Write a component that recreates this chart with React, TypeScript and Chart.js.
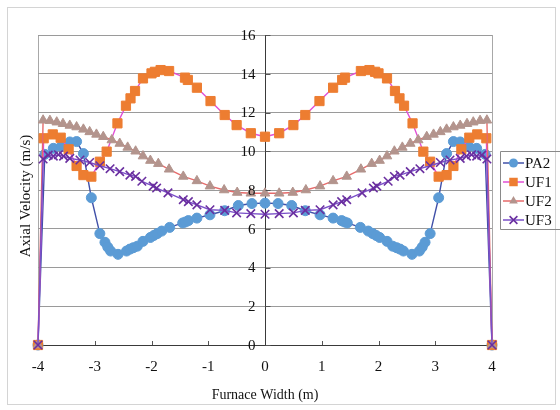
import React, { useEffect, useRef } from 'react';
import { Chart, registerables } from 'chart.js';

Chart.register(...registerables);

// ---------- data ----------
const seriesNames = ['PA2', 'UF1', 'UF2', 'UF3'];

const pa2X = [-4, -3.88, -3.73, -3.59, -3.44, -3.32, -3.2, -3.06, -2.91, -2.82, -2.77, -2.72, -2.59, -2.44, -2.38, -2.32, -2.25, -2.15, -2.02, -1.96, -1.9, -1.82, -1.68, -1.45, -1.4, -1.35, -1.2, -0.97, -0.71, -0.47, -0.23, 0,
  0.23, 0.47, 0.71, 0.97, 1.2, 1.35, 1.4, 1.45, 1.68, 1.82, 1.9, 1.96, 2.02, 2.15, 2.25, 2.32, 2.38, 2.44, 2.59, 2.72, 2.77, 2.82, 2.91, 3.06, 3.2, 3.32, 3.44, 3.59, 3.73, 3.88, 4];
const pa2Y = [0, 9.84, 10.15, 10.25, 10.48, 10.5, 9.88, 7.6, 5.75, 5.3, 5.05, 4.85, 4.68, 4.85, 4.95, 5.02, 5.1, 5.35, 5.55, 5.65, 5.75, 5.88, 6.07, 6.3, 6.35, 6.42, 6.55, 6.72, 6.93, 7.2, 7.3, 7.32,
  7.3, 7.2, 6.93, 6.72, 6.55, 6.42, 6.35, 6.3, 6.07, 5.88, 5.75, 5.65, 5.55, 5.35, 5.1, 5.02, 4.95, 4.85, 4.68, 4.85, 5.05, 5.3, 5.75, 7.6, 9.88, 10.5, 10.48, 10.25, 10.15, 9.84, 0];

const uf1X = [-4, -3.9, -3.74, -3.6, -3.46, -3.32, -3.2, -3.06, -2.91, -2.79, -2.6, -2.45, -2.37, -2.29, -2.15, -2.0, -1.94, -1.84, -1.69, -1.41, -1.36, -1.2, -0.96, -0.71, -0.5, -0.25, 0,
  0.25, 0.5, 0.71, 0.96, 1.2, 1.36, 1.41, 1.69, 1.84, 1.94, 2.0, 2.15, 2.29, 2.37, 2.45, 2.6, 2.79, 2.91, 3.06, 3.2, 3.32, 3.46, 3.6, 3.74, 3.9, 4];
const uf1Y = [0, 10.67, 10.87, 10.7, 10.1, 9.24, 8.77, 8.69, 9.46, 9.98, 11.44, 12.35, 12.73, 13.11, 13.76, 14.02, 14.1, 14.19, 14.14, 13.8, 13.68, 13.28, 12.59, 11.87, 11.35, 10.93, 10.75,
  10.93, 11.35, 11.87, 12.59, 13.28, 13.68, 13.8, 14.14, 14.19, 14.1, 14.02, 13.76, 13.11, 12.73, 12.35, 11.44, 9.98, 9.46, 8.69, 8.77, 9.24, 10.1, 10.7, 10.87, 10.67, 0];

const uf2X = [-4, -3.91, -3.79, -3.67, -3.56, -3.44, -3.32, -3.2, -3.09, -2.97, -2.85, -2.7, -2.56, -2.42, -2.28, -2.15, -2.02, -1.88, -1.69, -1.44, -1.2, -0.97, -0.72, -0.49, -0.25, 0,
  0.25, 0.49, 0.72, 0.97, 1.2, 1.44, 1.69, 1.88, 2.02, 2.15, 2.28, 2.42, 2.56, 2.7, 2.85, 2.97, 3.09, 3.2, 3.32, 3.44, 3.56, 3.67, 3.79, 3.91, 4];
const uf2Y = [0, 11.6, 11.58, 11.5, 11.42, 11.33, 11.25, 11.13, 11.0, 10.87, 10.75, 10.58, 10.4, 10.2, 10.0, 9.75, 9.52, 9.36, 9.07, 8.7, 8.47, 8.2, 8.0, 7.87, 7.83, 7.83,
  7.83, 7.87, 8.0, 8.2, 8.47, 8.7, 9.07, 9.36, 9.52, 9.75, 10.0, 10.2, 10.4, 10.58, 10.75, 10.87, 11.0, 11.13, 11.25, 11.33, 11.42, 11.5, 11.58, 11.6, 0];

const uf3X = [-4, -3.91, -3.82, -3.73, -3.64, -3.55, -3.44, -3.26, -3.09, -2.91, -2.73, -2.56, -2.38, -2.28, -2.17, -1.97, -1.91, -1.71, -1.44, -1.35, -1.2, -0.97, -0.71, -0.5, -0.25, 0,
  0.25, 0.5, 0.71, 0.97, 1.2, 1.35, 1.44, 1.71, 1.91, 1.97, 2.17, 2.28, 2.38, 2.56, 2.73, 2.91, 3.09, 3.26, 3.44, 3.55, 3.64, 3.73, 3.82, 3.91, 4];
const uf3Y = [0, 9.6, 9.8, 9.75, 9.82, 9.75, 9.63, 9.55, 9.42, 9.25, 9.1, 8.95, 8.77, 8.7, 8.45, 8.2, 8.1, 7.85, 7.5, 7.4, 7.23, 6.98, 6.95, 6.82, 6.78, 6.75,
  6.78, 6.82, 6.95, 6.98, 7.23, 7.4, 7.5, 7.85, 8.1, 8.2, 8.45, 8.7, 8.77, 8.95, 9.1, 9.25, 9.42, 9.55, 9.63, 9.75, 9.82, 9.75, 9.8, 9.6, 0];

const xTickValues = [-4, -3, -2, -1, 0, 1, 2, 3, 4];
const yTickValues = [0, 2, 4, 6, 8, 10, 12, 14, 16];

const xTitle = 'Furnace Width (m)';
const yTitle = 'Axial Velocity (m/s)';

// ---------- styles ----------
const SERIF = '"Liberation Serif", "Times New Roman", serif';
const styles = [
  { line: '#4050A8', fill: '#5B9BD5', stroke: '#5B9BD5', shape: 'circle', r: 5, bw: 1 },
  { line: '#E24FD6', fill: '#ED7D31', stroke: '#ED7D31', shape: 'rect', r: 6.5, bw: 1 },
  { line: '#E66A6A', fill: '#B3948D', stroke: '#B3948D', shape: 'triangle', r: 5.5, bw: 1 },
  { line: '#7A4FC9', fill: '#6A2FA0', stroke: '#6A2FA0', shape: 'crossRot', r: 6, bw: 1.6 },
];

function pts(xs: number[], ys: number[]) {
  return xs.map((x, i) => ({ x, y: ys[i] }));
}

function drawMarker(ctx: CanvasRenderingContext2D, shape: string, x: number, y: number, r: number, fill: string, stroke: string, bw: number) {
  ctx.save();
  ctx.fillStyle = fill;
  ctx.strokeStyle = stroke;
  ctx.lineWidth = bw;
  ctx.beginPath();
  if (shape === 'circle') {
    ctx.arc(x, y, r, 0, Math.PI * 2);
    ctx.fill();
  } else if (shape === 'rect') {
    const s = r * Math.SQRT1_2;
    ctx.rect(x - s, y - s, 2 * s, 2 * s);
    ctx.fill();
  } else if (shape === 'triangle') {
    ctx.moveTo(x, y - r);
    ctx.lineTo(x + r * 0.866, y + r * 0.5);
    ctx.lineTo(x - r * 0.866, y + r * 0.5);
    ctx.closePath();
    ctx.fill();
  } else {
    const d = r * Math.SQRT1_2;
    ctx.moveTo(x - d, y - d);
    ctx.lineTo(x + d, y + d);
    ctx.moveTo(x + d, y - d);
    ctx.lineTo(x - d, y + d);
    ctx.stroke();
  }
  ctx.restore();
}

const decorPlugin = {
  id: 'decor',
  beforeDraw(chart: any) {
    const ctx = chart.ctx as CanvasRenderingContext2D;
    ctx.save();
    ctx.fillStyle = '#ffffff';
    ctx.fillRect(0, 0, chart.width, chart.height);
    ctx.strokeStyle = '#d4d4d4';
    ctx.lineWidth = 1;
    ctx.strokeRect(7.5, 7.5, 548, 397);
    ctx.restore();
  },
  afterDraw(chart: any) {
    const ctx = chart.ctx as CanvasRenderingContext2D;
    const xs = chart.scales.x;
    const ys = chart.scales.y;
    const area = chart.chartArea;
    ctx.save();
    // small tick marks
    ctx.strokeStyle = '#555';
    ctx.lineWidth = 1;
    for (const v of xTickValues) {
      if (v === 0 || v === -4 || v === 4) continue;
      const px = Math.round(xs.getPixelForValue(v)) + 0.5;
      ctx.beginPath();
      ctx.moveTo(px, area.bottom);
      ctx.lineTo(px, area.bottom - 4);
      ctx.stroke();
    }
    const x0 = Math.round(xs.getPixelForValue(0)) + 0.5;
    for (const v of yTickValues) {
      const py = Math.round(ys.getPixelForValue(v)) + 0.5;
      ctx.beginPath();
      ctx.moveTo(x0, py);
      ctx.lineTo(x0 + 5, py);
      ctx.stroke();
    }
    // y tick labels (left of the centred axis)
    ctx.fillStyle = '#111';
    ctx.font = `15px ${SERIF}`;
    ctx.textAlign = 'right';
    ctx.textBaseline = 'middle';
    for (const v of yTickValues) {
      ctx.fillText(String(v), x0 - 10, ys.getPixelForValue(v) + 1);
    }
    // axis titles
    ctx.font = `14px ${SERIF}`;
    ctx.textAlign = 'center';
    ctx.textBaseline = 'middle';
    ctx.fillText(xTitle, xs.getPixelForValue(0), 395);
    ctx.save();
    ctx.translate(26, 196);
    ctx.rotate(-Math.PI / 2);
    ctx.font = `15px ${SERIF}`;
    ctx.fillText(yTitle, 0, 0);
    ctx.restore();
    // legend
    ctx.strokeStyle = '#8a8a8a';
    ctx.lineWidth = 1;
    ctx.beginPath();
    ctx.moveTo(562, 151.5);
    ctx.lineTo(500.5, 151.5);
    ctx.lineTo(500.5, 229.5);
    ctx.lineTo(562, 229.5);
    ctx.stroke();
    ctx.font = `15px ${SERIF}`;
    ctx.textAlign = 'left';
    ctx.textBaseline = 'middle';
    seriesNames.forEach((name, i) => {
      const st = styles[i];
      const y = 163 + i * 19;
      ctx.strokeStyle = st.line;
      ctx.lineWidth = 1.5;
      ctx.beginPath();
      ctx.moveTo(503, y);
      ctx.lineTo(524, y);
      ctx.stroke();
      drawMarker(ctx, st.shape, 513.5, y, st.r - 0.5, st.fill, st.stroke, st.bw);
      ctx.fillStyle = '#111';
      ctx.fillText(name, 525, y + 1);
    });
    ctx.restore();
  },
};

export default function App() {
  const canvasRef = useRef<HTMLCanvasElement | null>(null);

  useEffect(() => {
    const canvas = canvasRef.current;
    if (!canvas) return;
    const seriesData = [
      pts(pa2X, pa2Y),
      pts(uf1X, uf1Y),
      pts(uf2X, uf2Y),
      pts(uf3X, uf3Y),
    ];
    const datasets = seriesNames.map((name, i) => ({
      label: name,
      data: seriesData[i],
      showLine: true,
      borderColor: styles[i].line,
      borderWidth: 1.4,
      pointStyle: styles[i].shape as any,
      pointRadius: styles[i].r,
      pointBackgroundColor: styles[i].fill,
      pointBorderColor: styles[i].stroke,
      pointBorderWidth: styles[i].bw,
      tension: 0,
      clip: false as any,
      order: 3 - i,
    }));

    const chart = new Chart(canvas, {
      type: 'scatter',
      data: { datasets },
      plugins: [decorPlugin],
      options: {
        responsive: false,
        animation: false,
        devicePixelRatio: 1,
        layout: { padding: { left: 38, right: 68, top: 35, bottom: 0 } },
        plugins: {
          legend: { display: false },
          tooltip: { enabled: false },
          title: { display: false },
        },
        scales: {
          x: {
            type: 'linear',
            position: 'bottom',
            min: -4,
            max: 4,
            afterFit: (scale: any) => { scale.height = 65; },
            afterBuildTicks: (scale: any) => { scale.ticks = xTickValues.map((v) => ({ value: v })); },
            ticks: {
              stepSize: 1,
              padding: 13,
              color: '#111',
              font: { family: SERIF, size: 15 },
              callback: (v: any) => String(v),
            },
            grid: {
              drawTicks: false,
              color: (c: any) => (c.tick && (c.tick.value === -4 || c.tick.value === 4) ? '#a8a8a8' : 'rgba(0,0,0,0)'),
              lineWidth: 1,
            },
            border: { color: '#3a3a3a', width: 1 },
          },
          y: {
            type: 'linear',
            position: { x: 0 } as any,
            min: 0,
            max: 16,
            afterBuildTicks: (scale: any) => { scale.ticks = yTickValues.map((v) => ({ value: v })); },
            ticks: {
              stepSize: 2,
              color: 'rgba(0,0,0,0)',
              font: { family: SERIF, size: 15 },
              callback: (v: any) => String(v),
            },
            grid: {
              color: '#9a9a9a',
              lineWidth: 1,
              tickColor: 'rgba(0,0,0,0)',
              tickLength: 8,
            },
            border: { color: '#3a3a3a', width: 1 },
          },
        },
      },
    });
    return () => chart.destroy();
  }, []);

  return (
    <div style={{ position: 'absolute', left: 0, top: 0, width: 560, height: 410, background: '#fff' }}>
      <canvas ref={canvasRef} width={560} height={410} style={{ display: 'block' }} />
    </div>
  );
}
